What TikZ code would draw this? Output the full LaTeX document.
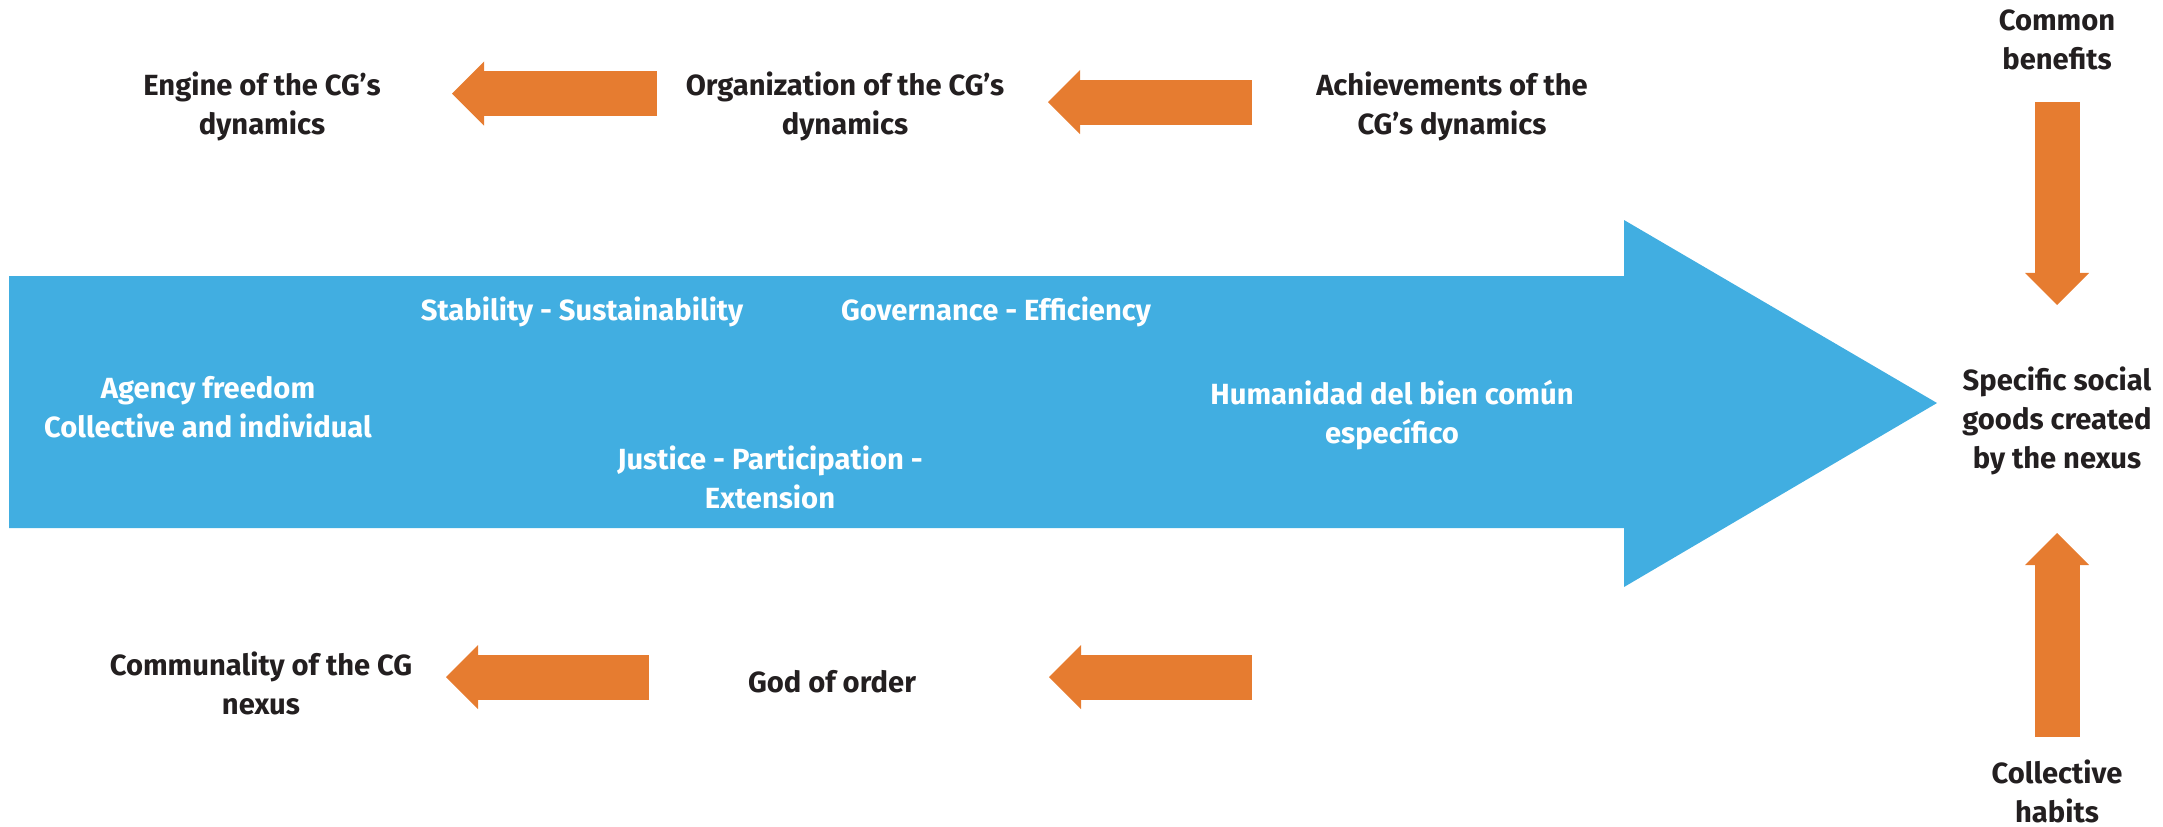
\documentclass[tikz,border=0pt]{standalone}
\usepackage{fontspec}
\setmainfont{Fira Sans}
\usepackage{tikz}
\usetikzlibrary{arrows.meta}
\definecolor{flowblue}{RGB}{65,174,225}
\definecolor{pushorange}{RGB}{230,124,48}
\definecolor{inkdark}{RGB}{35,31,32}

\begin{document}
\begin{tikzpicture}[x=0.01cm, y=-0.01cm,
  darktext/.style={align=center, inner sep=0pt, text=inkdark,
                   font=\bfseries\fontsize{8.3}{11.1}\selectfont},
  whitetext/.style={darktext, text=white},
  push/.style={draw=pushorange, line width=0.45cm,
               -{Triangle[length=0.32cm, width=0.64cm, line width=0pt]}}
]
\useasboundingbox (0,0) rectangle (2163,826);

%% Big blue arrow
\fill[flowblue] (9,276) -- (1624,276) -- (1624,220) -- (1937,403)
  -- (1624,587) -- (1624,528) -- (9,528) -- cycle;

%% Labels inside the blue arrow
\node[whitetext] at (208,407)  (agency)  {Agency freedom\\Collective and individual};
\node[whitetext] at (582,312)  (stab)    {Stability - Sustainability};
\node[whitetext] at (996,312)  (gov)     {Governance - Efficiency};
\node[whitetext] at (770,477)  (justice) {Justice - Participation -\\Extension};
\node[whitetext] at (1392,415) (human)   {Humanidad del bien común\\específico};

%% Top row
\node[darktext] at (262,106)  (engine) {Engine of the CG’s\\dynamics};
\node[darktext] at (845,106)  (organ)  {Organization of the CG’s\\dynamics};
\node[darktext] at (1452,106) (achiev) {Achievements of the\\CG’s dynamics};

%% Bottom row
\node[darktext] at (261,683) (commun) {Communality of the CG\\nexus};
\node[darktext] at (832,682) (god)    {God of order};

%% Right column
\node[darktext] at (2057,40)  (benef)    {Common\\benefits};
\node[darktext] at (2057,421) (goods)    {Specific social\\goods created\\by the nexus};
\node[darktext] at (2057,791) (habits)   {Collective\\habits};

%% Arrow ends
\coordinate (t1a) at (657,93.5);  \coordinate (t1b) at (452,93.5);
\coordinate (t2a) at (1252,102);  \coordinate (t2b) at (1048,102);
\coordinate (b1a) at (649,677);   \coordinate (b1b) at (446,677);
\coordinate (b2a) at (1252,677);  \coordinate (b2b) at (1049,677);
\coordinate (dna) at (2057,102);  \coordinate (dnb) at (2057,305);
\coordinate (upa) at (2057,737);  \coordinate (upb) at (2057,533);

%% Orange arrows
\draw[push] (t1a) -- (t1b);
\draw[push] (t2a) -- (t2b);
\draw[push] (b1a) -- (b1b);
\draw[push] (b2a) -- (b2b);
\draw[push] (dna) -- (dnb);
\draw[push] (upa) -- (upb);
\end{tikzpicture}
\end{document}
